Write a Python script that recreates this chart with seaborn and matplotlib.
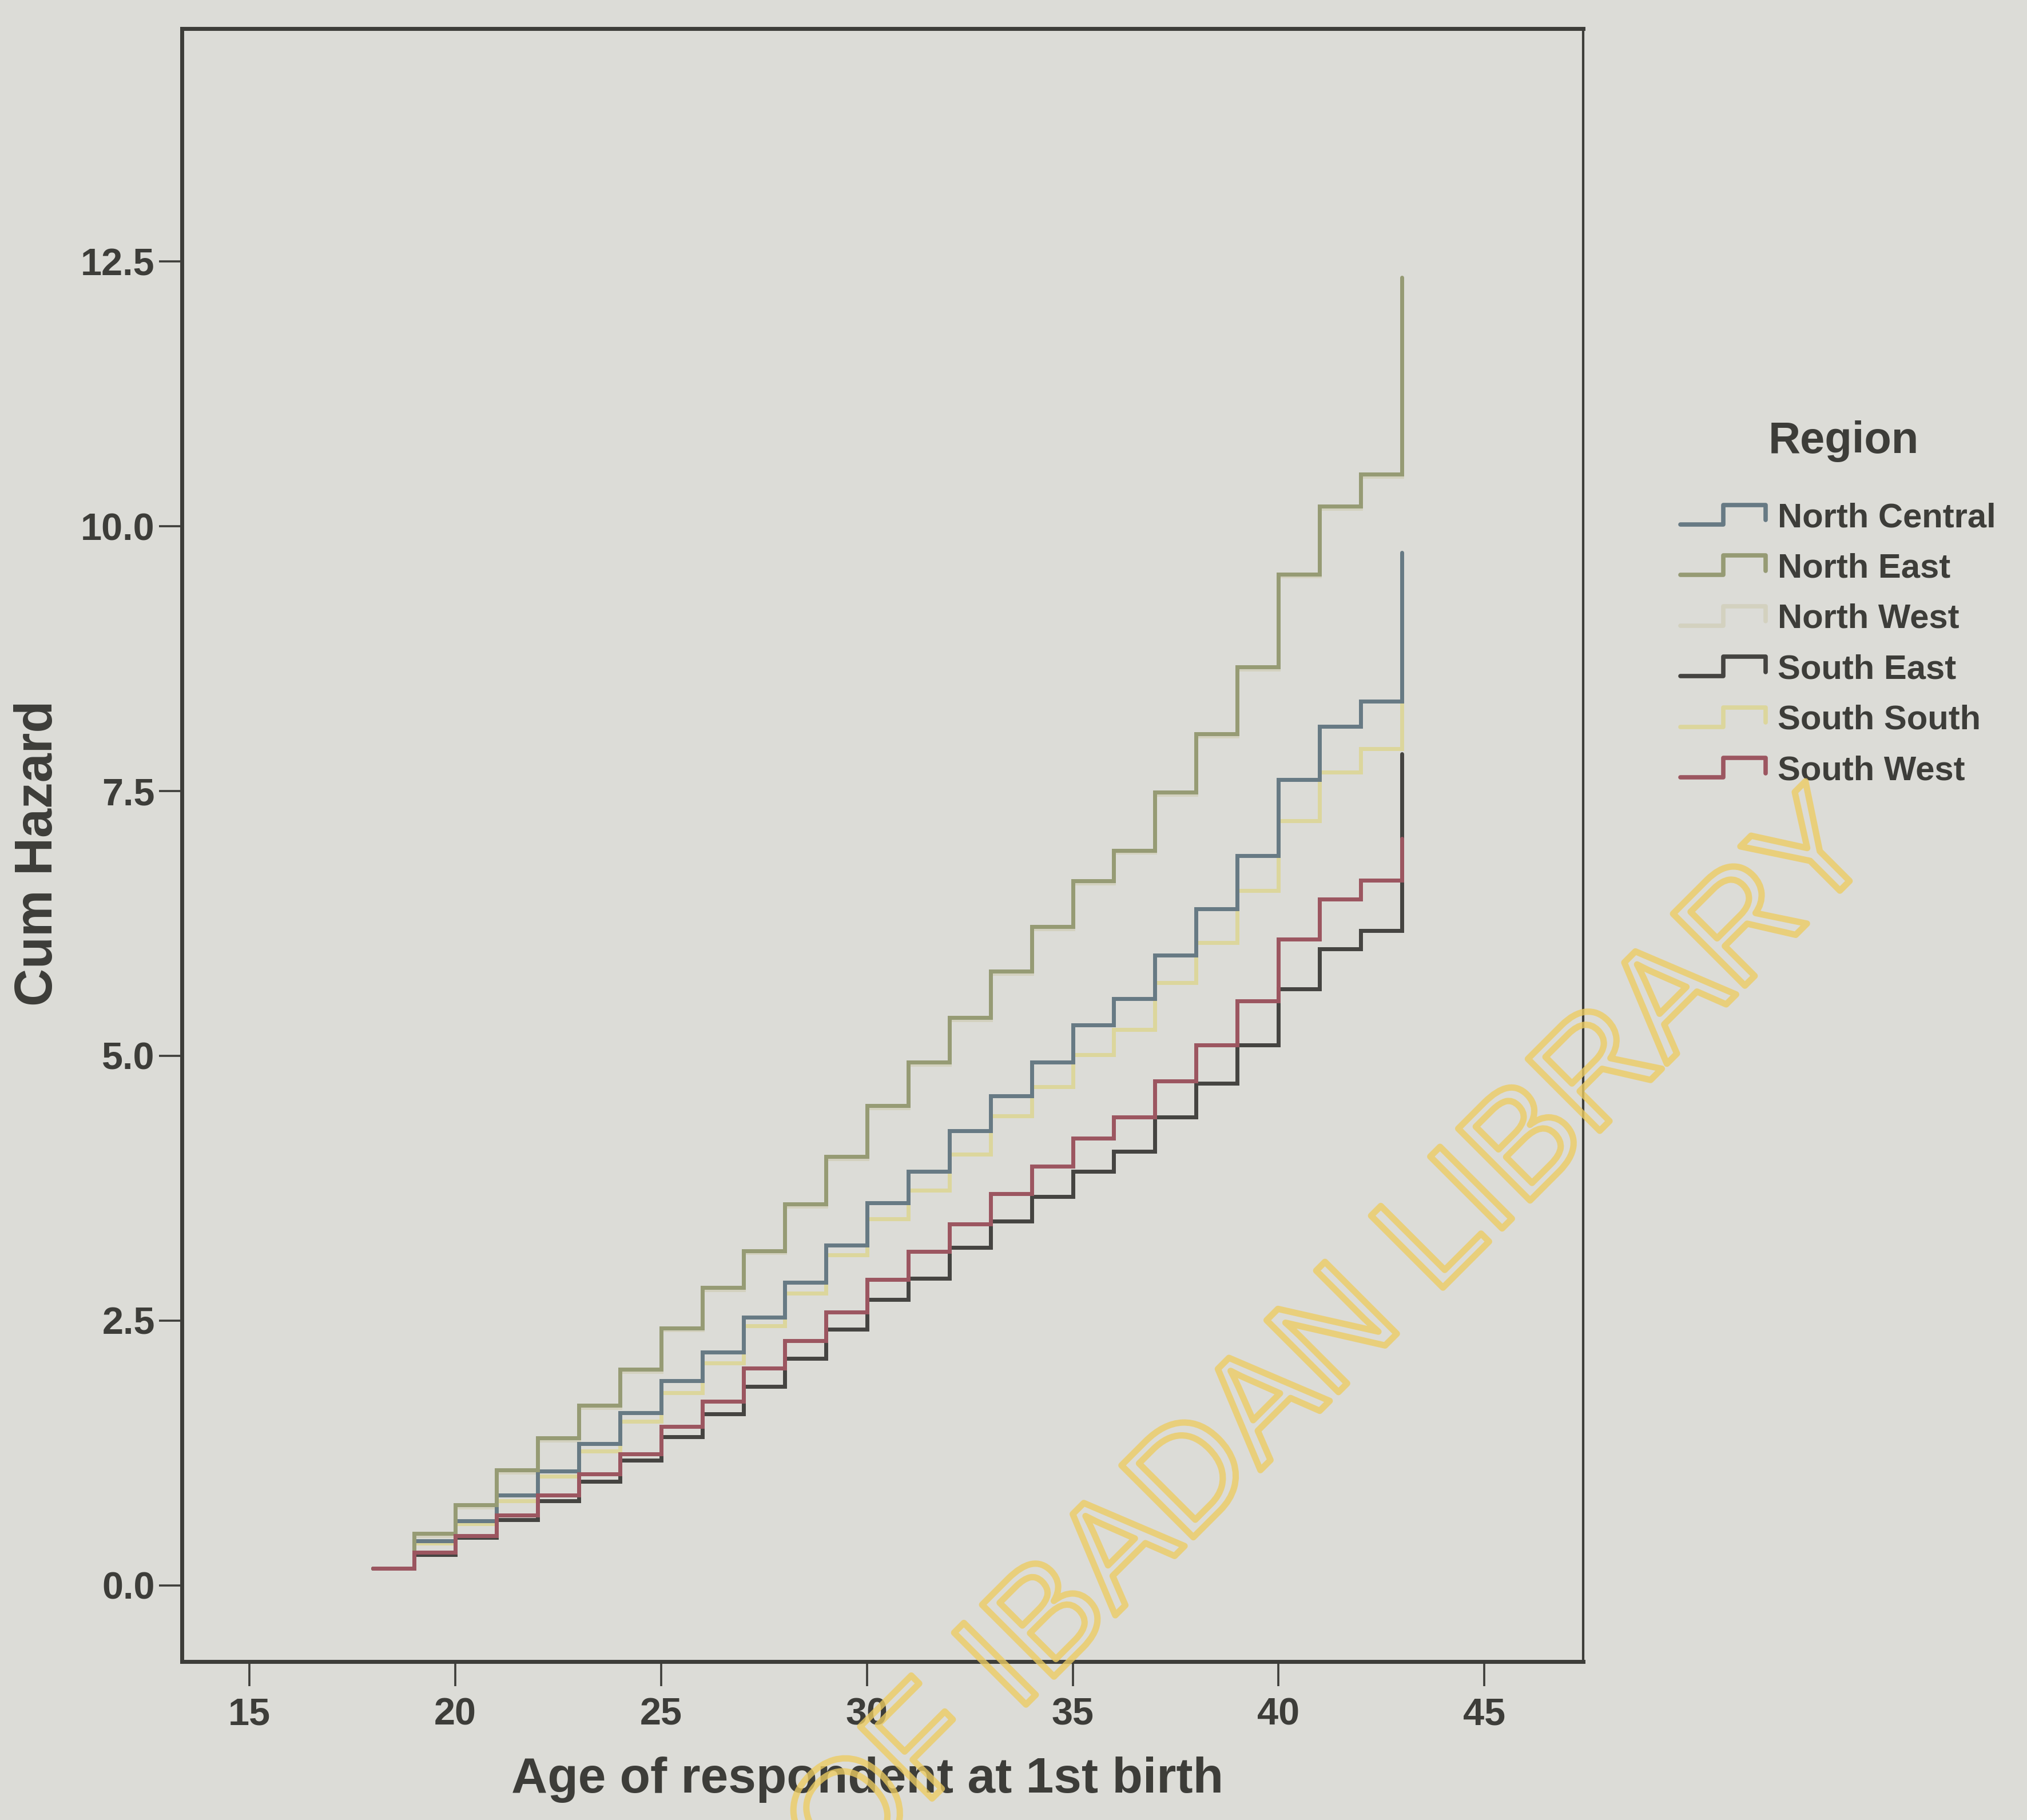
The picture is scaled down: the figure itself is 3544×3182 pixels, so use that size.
import numpy as np
import pandas as pd
import matplotlib
matplotlib.use("Agg")
import matplotlib.pyplot as plt
import seaborn as sns
from matplotlib.lines import Line2D
from matplotlib.legend_handler import HandlerBase
from matplotlib.ticker import FormatStrFormatter
from matplotlib import patheffects

# ---------------- data ----------------
ages = list(range(18, 44))
regions = ["North Central", "North East", "North West",
           "South East", "South South", "South West"]

north_central = [0.16, 0.42, 0.61, 0.85, 1.08, 1.34, 1.63, 1.93, 2.20, 2.53,
                 2.86, 3.21, 3.61, 3.91, 4.29, 4.62, 4.94, 5.29, 5.54, 5.95,
                 6.39, 6.89, 7.61, 8.11, 8.35, 9.75]
north_east = [0.16, 0.49, 0.76, 1.09, 1.39, 1.70, 2.04, 2.43, 2.81, 3.16,
              3.60, 4.05, 4.53, 4.94, 5.36, 5.80, 6.22, 6.65, 6.94, 7.49,
              8.04, 8.67, 9.55, 10.19, 10.49, 12.35]
north_west = [0.16, 0.47, 0.74, 1.07, 1.37, 1.68, 2.02, 2.41, 2.79, 3.14,
              3.58, 4.03, 4.51, 4.92, 5.34, 5.78, 6.20, 6.63, 6.92, 7.47,
              8.02, 8.65, 9.53, 10.17, 10.47, 12.30]
south_east = [0.16, 0.29, 0.45, 0.62, 0.80, 0.98, 1.18, 1.40, 1.62, 1.88,
              2.14, 2.42, 2.70, 2.90, 3.19, 3.44, 3.67, 3.91, 4.10, 4.42,
              4.74, 5.10, 5.63, 6.01, 6.18, 7.85]
south_south = [0.16, 0.40, 0.58, 0.80, 1.03, 1.27, 1.55, 1.82, 2.10, 2.45,
               2.76, 3.12, 3.46, 3.73, 4.07, 4.43, 4.71, 5.01, 5.25, 5.69,
               6.07, 6.56, 7.22, 7.68, 7.90, 9.20]
south_west = [0.16, 0.31, 0.47, 0.66, 0.85, 1.05, 1.24, 1.50, 1.74, 2.05,
              2.31, 2.58, 2.89, 3.15, 3.41, 3.70, 3.96, 4.22, 4.42, 4.76,
              5.10, 5.52, 6.10, 6.48, 6.66, 7.05]

x_ticks = [15, 20, 25, 30, 35, 40, 45]
y_ticks = [0.0, 2.5, 5.0, 7.5, 10.0, 12.5]

series = {
    "North Central": north_central,
    "North East": north_east,
    "North West": north_west,
    "South East": south_east,
    "South South": south_south,
    "South West": south_west,
}

colors = {
    "North Central": "#677a84",
    "North East": "#969b74",
    "North West": "#d3d1bf",
    "South East": "#454441",
    "South South": "#dcd69c",
    "South West": "#9c5660",
}

rows = []
for r in regions:
    for a, v in zip(ages, series[r]):
        rows.append({"Age": a, "Cum Hazard": v, "Region": r})
df = pd.DataFrame(rows)

# ---------------- style ----------------
sns.set_theme(style="white")
plt.rcParams["font.family"] = ["Liberation Sans", "DejaVu Sans"]

BG = "#dcdcd7"
DARK = "#3d3d39"
W, H = 3544, 3182

fig = plt.figure(figsize=(W / 100, H / 100), dpi=100, facecolor=BG)
ax_l, ax_r, ax_t, ax_b = 318, 2768, 50, 2905
ax = fig.add_axes([ax_l / W, (H - ax_b) / H, (ax_r - ax_l) / W, (ax_b - ax_t) / H])
ax.set_facecolor(BG)

sns.lineplot(data=df, x="Age", y="Cum Hazard", hue="Region",
             hue_order=regions, palette=colors, estimator=None,
             drawstyle="steps-post", linewidth=5.0, legend=False, ax=ax)

zorders = {"North West": 2.0, "South South": 2.1, "North Central": 2.3,
           "North East": 2.4, "South East": 2.5, "South West": 2.6}
for line, r in zip(ax.lines, regions):
    line.set_zorder(zorders[r])
    line.set_solid_joinstyle("miter")

ax.set_xlim(13.36, 47.4)
ax.set_ylim(-0.72, 14.70)
ax.set_xticks(x_ticks)
ax.set_yticks(y_ticks)
ax.yaxis.set_major_formatter(FormatStrFormatter("%.1f"))

ax.tick_params(axis="x", bottom=True, top=False, direction="out", length=31,
               width=2.6, color=DARK, labelsize=48, labelcolor=DARK, pad=14)
ax.tick_params(axis="y", left=True, right=False, direction="out", length=29,
               width=2.6, color=DARK, labelsize=48, labelcolor=DARK, pad=5)
for lab in ax.get_xticklabels() + ax.get_yticklabels():
    lab.set_fontweight("bold")

for name, s in ax.spines.items():
    s.set_visible(True)
    s.set_color(DARK)
    s.set_linewidth(5 if name != "right" else 3)

ax.set_xlabel("Age of respondent at 1st birth", fontsize=63,
              fontweight="bold", color=DARK)
ax.xaxis.set_label_coords(0.489, -0.058)
ax.set_ylabel("Cum Hazard", fontsize=66, fontweight="bold", color=DARK)
ax.yaxis.set_label_coords(-0.085, 0.495)


# ---------------- legend with step-shaped handles ----------------
class StepHandler(HandlerBase):
    def create_artists(self, legend, orig_handle, xdescent, ydescent,
                       width, height, fontsize, trans):
        x0, y0 = -xdescent, -ydescent
        xs = [x0, x0 + 0.5 * width, x0 + 0.5 * width, x0 + width, x0 + width]
        ys = [y0 + 0.05 * height, y0 + 0.05 * height, y0 + 0.95 * height,
              y0 + 0.95 * height, y0 + 0.25 * height]
        ln = Line2D(xs, ys, color=orig_handle.get_color(),
                    lw=orig_handle.get_linewidth(),
                    solid_joinstyle="round", solid_capstyle="round")
        ln.set_transform(trans)
        return [ln]


handles = [Line2D([], [], color=colors[r], lw=5.5) for r in regions]
leg = fig.legend(handles, regions, handler_map={Line2D: StepHandler()},
                 loc="upper left", bbox_to_anchor=(2938 / W, 1 - 878 / H),
                 frameon=False, prop={"weight": "bold", "size": 43},
                 handlelength=2.5, handleheight=0.6, handletextpad=0.35,
                 labelspacing=0.56, borderpad=0, borderaxespad=0)
for t in leg.get_texts():
    t.set_color(DARK)

fig.text(3223 / W, 1 - 772 / H, "Region", fontsize=56, color=DARK,
         ha="center", va="center", fontweight="bold")

# ---------------- watermark ----------------
fig.text(3240 / W, 1 - 1440 / H, "OF IBADAN LIBRARY",
         rotation=45, rotation_mode="anchor", ha="right", va="center",
         fontsize=186, color=(0, 0, 0, 0), zorder=10,
         path_effects=[patheffects.Stroke(linewidth=8,
                                          foreground=(0.93, 0.80, 0.38, 0.78))])

fig.savefig("out.png", dpi=100, facecolor=BG)
